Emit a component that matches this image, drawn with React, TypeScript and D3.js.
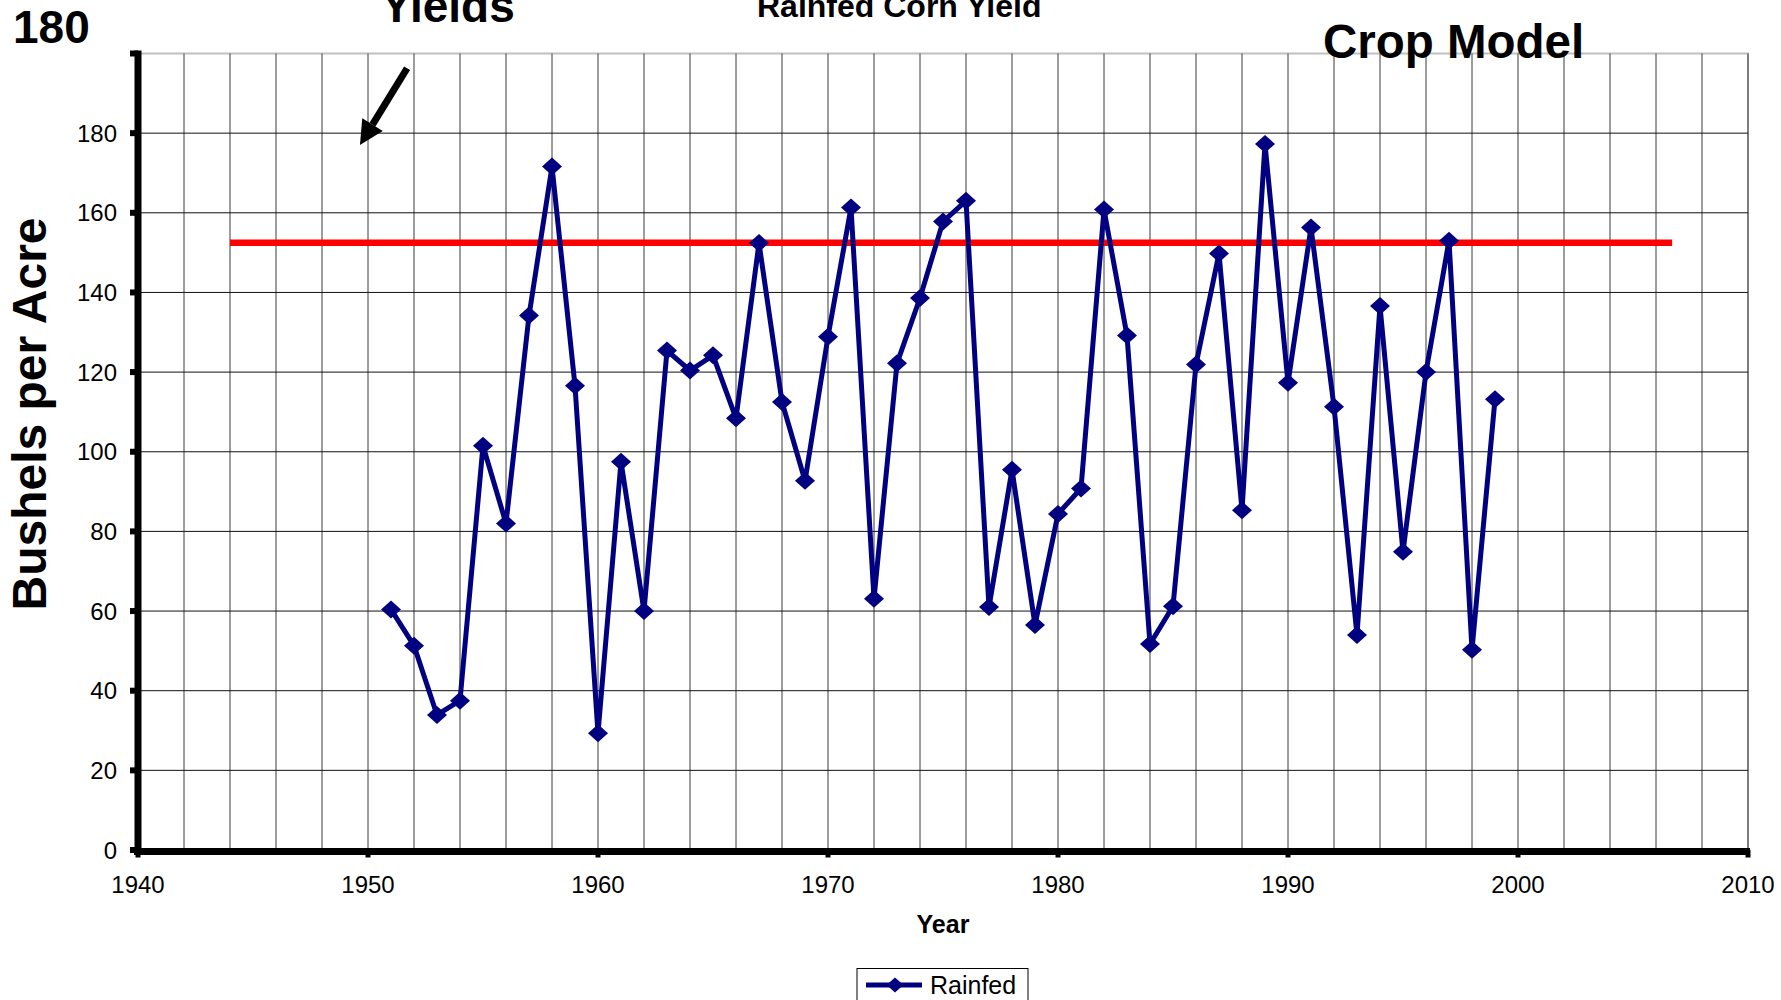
import React from "react";
import * as d3 from "d3";

const years = [
  1951, 1952, 1953, 1954, 1955, 1956, 1957, 1958, 1959, 1960,
  1961, 1962, 1963, 1964, 1965, 1966, 1967, 1968, 1969, 1970,
  1971, 1972, 1973, 1974, 1975, 1976, 1977, 1978, 1979, 1980,
  1981, 1982, 1983, 1984, 1985, 1986, 1987, 1988, 1989, 1990,
  1991, 1992, 1993, 1994, 1995, 1996, 1997, 1998, 1999,
];
const rainfed = [
  60.4, 51.3, 33.9, 37.5, 101.5, 82.0, 134.2, 171.6, 116.6, 29.3,
  97.5, 60.0, 125.4, 120.4, 124.2, 108.4, 152.4, 112.5, 92.7, 128.9,
  161.3, 63.1, 122.2, 138.6, 157.8, 163.0, 61.0, 95.5, 56.5, 84.4,
  90.8, 160.8, 129.2, 51.7, 61.2, 121.9, 149.8, 85.3, 177.3, 117.3,
  156.3, 111.3, 54.0, 136.6, 74.9, 120.0, 153.0, 50.3, 113.2,
];
// Crop model reference level
const modelYears = [1944, 2006.7];
const modelValue = [152.5, 152.5];
// Arrow annotation (data units): tail -> tip
const arrowYears = [1951.7, 1949.65];
const arrowValues = [196.3, 177.0];

const xDomain = [1940, 2010];
const yDomain = [0, 200];
const xTickLabels = [1940, 1950, 1960, 1970, 1980, 1990, 2000, 2010];
const yTickLabels = [0, 20, 40, 60, 80, 100, 120, 140, 160, 180];
const seriesName = "Rainfed";

const FONT = "'Liberation Sans', Arial, Helvetica, sans-serif";
const W = 1781;
const H = 1000;

export default function App() {
  const x = d3.scaleLinear().domain(xDomain).range([138, 1748]);
  const y = d3.scaleLinear().domain(yDomain).range([850, 53.5]);

  const pts = years.map((yr, i) => [yr, rainfed[i]] as [number, number]);
  const line = d3
    .line<[number, number]>()
    .x((d) => x(d[0]))
    .y((d) => y(d[1]));

  const vGrid = d3.range(1942, 2010.5, 2);
  const hGrid = yTickLabels.filter((v) => v > 0);

  const diamond = (cx: number, cy: number, w = 10, h = 9) =>
    `M${cx},${cy - h}L${cx + w},${cy}L${cx},${cy + h}L${cx - w},${cy}Z`;

  // arrow geometry
  const ax0 = x(arrowYears[0]);
  const ay0 = y(arrowValues[0]);
  const ax1 = x(arrowYears[1]);
  const ay1 = y(arrowValues[1]);
  const len = Math.hypot(ax1 - ax0, ay1 - ay0);
  const ux = (ax1 - ax0) / len;
  const uy = (ay1 - ay0) / len;
  const headL = 24;
  const headW = 12;
  const bx = ax1 - ux * headL;
  const by = ay1 - uy * headL;
  const px = -uy;
  const py = ux;
  const headPath = `M${ax1},${ay1}L${bx + px * headW},${by + py * headW}L${bx - px * headW},${by - py * headW}Z`;

  return (
    <svg
      width={W}
      height={H}
      style={{ position: "absolute", left: 0, top: 0, display: "block", background: "#fff" }}
      fontFamily={FONT}
    >
      <rect x={0} y={0} width={W} height={H} fill="#fff" />

      {/* plot area border */}
      <rect
        x={x(xDomain[0])}
        y={y(yDomain[1])}
        width={x(xDomain[1]) - x(xDomain[0])}
        height={y(yDomain[0]) - y(yDomain[1])}
        fill="none"
        stroke="#c0c0c0"
        strokeWidth={2}
      />

      {/* vertical grid */}
      {vGrid.map((v) => (
        <line
          key={"v" + v}
          x1={x(v)}
          x2={x(v)}
          y1={y(yDomain[1])}
          y2={y(0)}
          stroke="#3a3a3a"
          strokeWidth={1}
        />
      ))}
      {/* horizontal grid */}
      {hGrid.map((v) => (
        <line
          key={"h" + v}
          x1={x(xDomain[0])}
          x2={x(xDomain[1])}
          y1={y(v)}
          y2={y(v)}
          stroke="#111"
          strokeWidth={1}
        />
      ))}

      {/* crop model red line */}
      <line
        x1={x(modelYears[0])}
        x2={x(modelYears[1])}
        y1={y(modelValue[0])}
        y2={y(modelValue[1])}
        stroke="#ff0000"
        strokeWidth={6.5}
      />

      {/* series */}
      <path d={line(pts) || ""} fill="none" stroke="#000080" strokeWidth={5} strokeLinejoin="miter" />
      {pts.map((d, i) => (
        <path key={"m" + i} d={diamond(x(d[0]), y(d[1]))} fill="#000080" />
      ))}

      {/* y axis */}
      <line x1={x(xDomain[0])} x2={x(xDomain[0])} y1={y(yDomain[1]) - 3} y2={y(0) + 4} stroke="#000" strokeWidth={7} />
      {[...yTickLabels, 200].map((v) => (
        <line key={"yt" + v} x1={x(xDomain[0]) - 8} x2={x(xDomain[0])} y1={y(v)} y2={y(v)} stroke="#000" strokeWidth={6} />
      ))}
      {yTickLabels.map((v) => (
        <text key={"yl" + v} x={117} y={y(v) + 8.5} textAnchor="end" fontSize={24} fill="#000">
          {v}
        </text>
      ))}

      {/* x axis */}
      <line x1={x(xDomain[0]) - 4} x2={x(xDomain[1]) + 2} y1={y(0) + 1.5} y2={y(0) + 1.5} stroke="#000" strokeWidth={7} />
      {xTickLabels.map((v) => (
        <line key={"xt" + v} x1={x(v)} x2={x(v)} y1={y(0)} y2={y(0) + 7.5} stroke="#000" strokeWidth={5} />
      ))}
      {xTickLabels.map((v) => (
        <text key={"xl" + v} x={x(v)} y={892.5} textAnchor="middle" fontSize={24} fill="#000">
          {v}
        </text>
      ))}

      {/* axis titles */}
      <text x={943} y={933} textAnchor="middle" fontSize={25} fontWeight="bold">
        Year
      </text>
      <text
        transform={`translate(46,414) rotate(-90)`}
        textAnchor="middle"
        fontSize={48}
        fontWeight="bold"
      >
        Bushels per Acre
      </text>

      {/* annotations / titles */}
      <text x={13} y={43.3} fontSize={46} fontWeight="bold">
        180
      </text>
      <text x={381} y={21.5} fontSize={46} fontWeight="bold">
        Yields
      </text>
      <text x={757} y={16.5} fontSize={32} fontWeight="bold">
        Rainfed Corn Yield
      </text>
      <text x={1323} y={58} fontSize={47.5} fontWeight="bold">
        Crop Model
      </text>

      {/* arrow */}
      <line x1={ax0} y1={ay0} x2={bx} y2={by} stroke="#000" strokeWidth={7} />
      <path d={headPath} fill="#000" />

      {/* legend */}
      <rect x={857} y={968.5} width={171} height={50} fill="#fff" stroke="#000" strokeWidth={1} />
      <line x1={866} x2={922} y1={985} y2={985} stroke="#000080" strokeWidth={5} />
      <path d={diamond(895, 985, 8.5, 7.5)} fill="#000080" />
      <text x={930} y={994} fontSize={25} fill="#000">
        {seriesName}
      </text>
    </svg>
  );
}
